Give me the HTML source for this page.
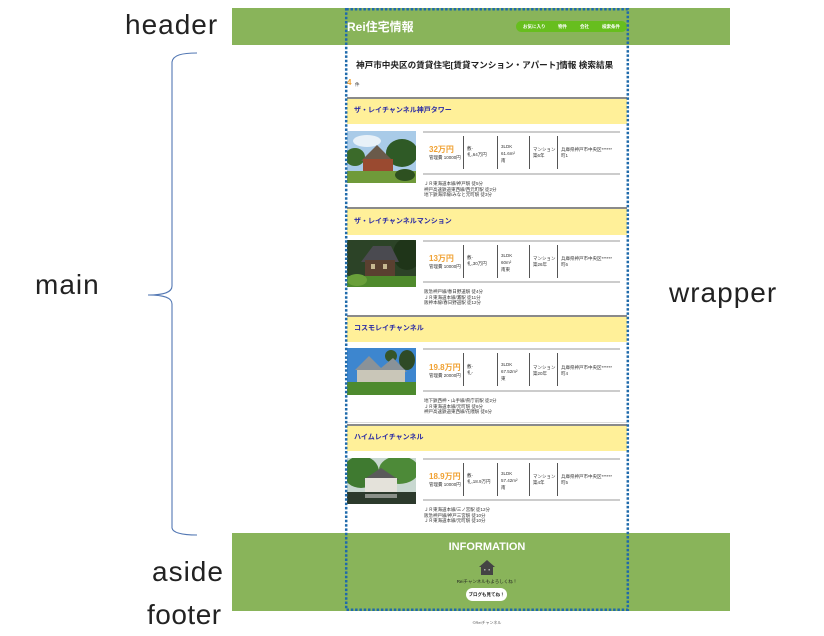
<!DOCTYPE html>
<html><head><meta charset="utf-8">
<style>
*{margin:0;padding:0;box-sizing:border-box}
body{width:824px;height:636px;background:#fff;position:relative;overflow:hidden;font-family:"Liberation Sans","Noto Sans CJK JP",sans-serif;}
.a{position:absolute;white-space:nowrap}
.lbl{font-size:28px;line-height:28px;color:#222;letter-spacing:1px;font-family:"Liberation Sans","DejaVu Sans",sans-serif}
.green{background:#89b45a}
.t{font-size:4.5px;line-height:5.5px;color:#333}
.ttl{font-size:7px;line-height:8px;font-weight:bold;color:#2b2ba5}
.price{font-size:8px;line-height:9px;font-weight:bold;color:#f0a030}
.vd{position:absolute;width:1px;background:#555}
</style></head><body>

<!-- labels -->
<div class="a lbl" style="left:125px;top:11px">header</div>
<div class="a lbl" style="left:35px;top:271px">main</div>
<div class="a lbl" style="left:152px;top:558px">aside</div>
<div class="a lbl" style="left:147px;top:601px;letter-spacing:0.5px">footer</div>
<div class="a lbl" style="left:669px;top:279px">wrapper</div>

<!-- brace -->
<svg class="a" style="left:0;top:0" width="824" height="636">
<path d="M197,53 C182,53 173,55 172,62 L172,286 C172,292 165,295 148,295 C165,295 172,298 172,304 L172,528 C173,533 182,535 197,535" fill="none" stroke="#5277b3" stroke-width="1.1"/>
</svg>

<!-- header -->
<div class="a green" style="left:232px;top:8px;width:498px;height:37px"></div>
<div class="a" style="left:347px;top:20px;font-size:12px;line-height:14px;font-weight:bold;color:#fff">Rei住宅情報</div>
<div class="a" style="left:516px;top:21px;width:111px;height:11px;border-radius:6px;background:#67be1e"></div>
<div class="a" style="left:523px;top:24px;font-size:4.5px;line-height:5px;font-weight:bold;color:#fff">お気に入り</div>
<div class="a" style="left:558px;top:24px;font-size:4.5px;line-height:5px;font-weight:bold;color:#fff">物件</div>
<div class="a" style="left:580px;top:24px;font-size:4.5px;line-height:5px;font-weight:bold;color:#fff">会社</div>
<div class="a" style="left:602px;top:24px;font-size:4.5px;line-height:5px;font-weight:bold;color:#fff">検索条件</div>

<!-- main title -->
<div class="a" style="left:356px;top:60px;font-size:8.6px;line-height:10px;font-weight:bold;color:#222">神戸市中央区の賃貸住宅[賃貸マンション・アパート]情報 検索結果</div>
<div class="a" style="left:347px;top:78px;font-size:8px;line-height:9px;font-weight:bold;color:#f0a030">4</div>
<div class="a t" style="left:355px;top:82px">件</div>

<!-- section 1 -->
<div class="a" style="left:347px;top:97px;width:280px;height:2px;background:#8a8a8a"></div>
<div class="a" style="left:347px;top:99px;width:280px;height:25px;background:#fff099"></div>
<div class="a ttl" style="left:354px;top:107px">ザ・レイチャンネル神戸タワー</div>
<svg class="a" style="left:347px;top:131px" width="69" height="52">
<rect width="69" height="52" fill="#a9cbe8"/><ellipse cx="20" cy="10" rx="14" ry="6" fill="#e8f1f8"/>
<ellipse cx="55" cy="22" rx="16" ry="14" fill="#2f5a26"/><ellipse cx="8" cy="26" rx="10" ry="9" fill="#3b6a2a"/>
<polygon points="14,30 30,14 46,30" fill="#6a5a4a"/><rect x="16" y="28" width="30" height="14" fill="#9a4a30"/>
<rect x="0" y="40" width="69" height="12" fill="#6f9a3a"/><ellipse cx="58" cy="44" rx="10" ry="6" fill="#2d5020"/>
</svg>
<div class="a" style="left:423px;top:131px;width:197px;height:1.5px;background:#ccc"></div>
<div class="a" style="left:423px;top:173px;width:197px;height:1.5px;background:#ccc"></div>
<div class="vd" style="left:463px;top:136px;height:33px"></div>
<div class="vd" style="left:497px;top:136px;height:33px"></div>
<div class="vd" style="left:529px;top:136px;height:33px"></div>
<div class="vd" style="left:557px;top:136px;height:33px"></div>
<div class="a price" style="left:429px;top:145px">32万円</div>
<div class="a t" style="left:429px;top:155px">管理費 10000円</div>
<div class="a t" style="left:467px;top:146px">敷-<br>礼,64万円</div>
<div class="a t" style="left:501px;top:143px;line-height:7px">3LDK<br>61.6m²<br>南</div>
<div class="a t" style="left:533px;top:147px;line-height:6px">マンション<br>築6年</div>
<div class="a t" style="left:561px;top:147px;line-height:6px">兵庫県神戸市中央区******<br>町1</div>
<div class="a t" style="left:424px;top:181px">ＪＲ東海道本線/神戸駅 徒5分<br>神戸高速鉄道東西線/西元町駅 徒2分<br>地下鉄海岸線/みなと元町駅 徒3分</div>

<!-- section 2 -->
<div class="a" style="left:347px;top:207px;width:280px;height:2px;background:#8a8a8a"></div>
<div class="a" style="left:347px;top:209px;width:280px;height:26px;background:#fff099"></div>
<div class="a ttl" style="left:354px;top:218px">ザ・レイチャンネルマンション</div>
<svg class="a" style="left:347px;top:240px" width="69" height="47">
<rect width="69" height="47" fill="#2c4327"/><ellipse cx="60" cy="14" rx="14" ry="16" fill="#1f3519"/>
<polygon points="14,22 26,6 44,6 52,22" fill="#4a4a50"/><rect x="18" y="20" width="30" height="18" fill="#5a4030"/>
<rect x="24" y="24" width="4" height="5" fill="#c8b890"/><rect x="36" y="24" width="4" height="5" fill="#c8b890"/>
<rect x="0" y="36" width="69" height="11" fill="#4f8a2c"/><ellipse cx="10" cy="40" rx="10" ry="6" fill="#6aa03a"/>
</svg>
<div class="a" style="left:423px;top:240px;width:197px;height:1.5px;background:#ccc"></div>
<div class="a" style="left:423px;top:281px;width:197px;height:1.5px;background:#ccc"></div>
<div class="vd" style="left:463px;top:245px;height:33px"></div>
<div class="vd" style="left:497px;top:245px;height:33px"></div>
<div class="vd" style="left:529px;top:245px;height:33px"></div>
<div class="vd" style="left:557px;top:245px;height:33px"></div>
<div class="a price" style="left:429px;top:254px">13万円</div>
<div class="a t" style="left:429px;top:264px">管理費 10000円</div>
<div class="a t" style="left:467px;top:255px">敷-<br>礼,30万円</div>
<div class="a t" style="left:501px;top:252px;line-height:7px">3LDK<br>60m²<br>南東</div>
<div class="a t" style="left:533px;top:256px;line-height:6px">マンション<br>築26年</div>
<div class="a t" style="left:561px;top:256px;line-height:6px">兵庫県神戸市中央区******<br>町6</div>
<div class="a t" style="left:424px;top:289px">阪急神戸線/春日野道駅 徒4分<br>ＪＲ東海道本線/灘駅 徒11分<br>阪神本線/春日野道駅 徒12分</div>

<!-- section 3 -->
<div class="a" style="left:347px;top:315px;width:280px;height:2px;background:#8a8a8a"></div>
<div class="a" style="left:347px;top:317px;width:280px;height:25px;background:#fff099"></div>
<div class="a ttl" style="left:354px;top:325px">コスモレイチャンネル</div>
<svg class="a" style="left:347px;top:348px" width="69" height="47">
<rect width="69" height="47" fill="#3d86cf"/><ellipse cx="60" cy="12" rx="8" ry="10" fill="#2e4a26"/><ellipse cx="44" cy="8" rx="6" ry="6" fill="#35552a"/>
<polygon points="8,22 22,8 34,20 46,10 60,24" fill="#8a9298"/><rect x="10" y="22" width="48" height="14" fill="#c9c6b8"/>
<rect x="0" y="34" width="69" height="13" fill="#4d8a2e"/>
</svg>
<div class="a" style="left:423px;top:348px;width:197px;height:1.5px;background:#ccc"></div>
<div class="a" style="left:423px;top:390px;width:197px;height:1.5px;background:#ccc"></div>
<div class="vd" style="left:463px;top:353px;height:33px"></div>
<div class="vd" style="left:497px;top:353px;height:33px"></div>
<div class="vd" style="left:529px;top:353px;height:33px"></div>
<div class="vd" style="left:557px;top:353px;height:33px"></div>
<div class="a price" style="left:429px;top:363px">19.8万円</div>
<div class="a t" style="left:429px;top:373px">管理費 20000円</div>
<div class="a t" style="left:467px;top:364px">敷-<br>礼-</div>
<div class="a t" style="left:501px;top:361px;line-height:7px">3LDK<br>67.52m²<br>東</div>
<div class="a t" style="left:533px;top:365px;line-height:6px">マンション<br>築20年</div>
<div class="a t" style="left:561px;top:365px;line-height:6px">兵庫県神戸市中央区******<br>町4</div>
<div class="a t" style="left:424px;top:398px">地下鉄西神・山手線/県庁前駅 徒2分<br>ＪＲ東海道本線/元町駅 徒6分<br>神戸高速鉄道東西線/花隈駅 徒6分</div>
<div class="a" style="left:347px;top:422px;width:280px;height:1px;background:#ddd"></div>

<!-- section 4 -->
<div class="a" style="left:347px;top:424px;width:280px;height:2px;background:#8a8a8a"></div>
<div class="a" style="left:347px;top:426px;width:280px;height:25px;background:#fff099"></div>
<div class="a ttl" style="left:354px;top:434px">ハイムレイチャンネル</div>
<svg class="a" style="left:347px;top:458px" width="69" height="46">
<rect width="69" height="46" fill="#c8d8d0"/><ellipse cx="14" cy="14" rx="18" ry="16" fill="#3f7a30"/><ellipse cx="52" cy="12" rx="20" ry="14" fill="#4d8a38"/>
<polygon points="16,22 34,10 52,22" fill="#5a5a5a"/><rect x="18" y="20" width="32" height="14" fill="#e4e2da"/>
<rect x="0" y="34" width="69" height="12" fill="#2c3a2c"/><rect x="18" y="36" width="32" height="4" fill="#8a9088"/>
</svg>
<div class="a" style="left:423px;top:458px;width:197px;height:1.5px;background:#ccc"></div>
<div class="a" style="left:423px;top:499px;width:197px;height:1.5px;background:#ccc"></div>
<div class="vd" style="left:463px;top:463px;height:33px"></div>
<div class="vd" style="left:497px;top:463px;height:33px"></div>
<div class="vd" style="left:529px;top:463px;height:33px"></div>
<div class="vd" style="left:557px;top:463px;height:33px"></div>
<div class="a price" style="left:429px;top:472px">18.9万円</div>
<div class="a t" style="left:429px;top:482px">管理費 10000円</div>
<div class="a t" style="left:467px;top:473px">敷-<br>礼,18.9万円</div>
<div class="a t" style="left:501px;top:470px;line-height:7px">3LDK<br>57.42m²<br>南</div>
<div class="a t" style="left:533px;top:474px;line-height:6px">マンション<br>築4年</div>
<div class="a t" style="left:561px;top:474px;line-height:6px">兵庫県神戸市中央区******<br>町5</div>
<div class="a t" style="left:424px;top:507px">ＪＲ東海道本線/三ノ宮駅 徒12分<br>阪急神戸線/神戸三宮駅 徒10分<br>ＪＲ東海道本線/元町駅 徒10分</div>

<!-- aside -->
<div class="a green" style="left:232px;top:533px;width:498px;height:78px"></div>
<div class="a" style="left:387px;top:541px;width:200px;text-align:center;font-size:11px;line-height:13px;font-weight:bold;color:#fff">INFORMATION</div>
<svg class="a" style="left:479px;top:560px" width="16" height="15">
<polygon points="0,7 8,0 16,7" fill="#444"/><rect x="2" y="6" width="12" height="9" fill="#444"/>
<rect x="5" y="9" width="1.5" height="1.5" fill="#aaa"/><rect x="9.5" y="9" width="1.5" height="1.5" fill="#aaa"/>
</svg>
<div class="a" style="left:387px;top:579px;width:200px;text-align:center;font-size:4.5px;line-height:5px;color:#222">Reiチャンネルもよろしくね！</div>
<div class="a" style="left:466px;top:588px;width:41px;height:13px;border-radius:7px;background:#fff"></div>
<div class="a" style="left:466px;top:592px;width:41px;text-align:center;font-size:4.5px;line-height:5px;font-weight:bold;color:#222">ブログも見てね！</div>

<!-- footer -->
<div class="a" style="left:387px;top:620px;width:200px;text-align:center;font-size:4px;line-height:5px;color:#555">©Reiチャンネル</div>

<!-- wrapper dotted border -->
<svg class="a" style="left:0;top:0" width="824" height="636">
<rect x="346.2" y="9.2" width="281.6" height="600.6" fill="none" stroke="#1f6aab" stroke-width="2.5" stroke-dasharray="2.5 1.8"/>
</svg>

</body></html>
